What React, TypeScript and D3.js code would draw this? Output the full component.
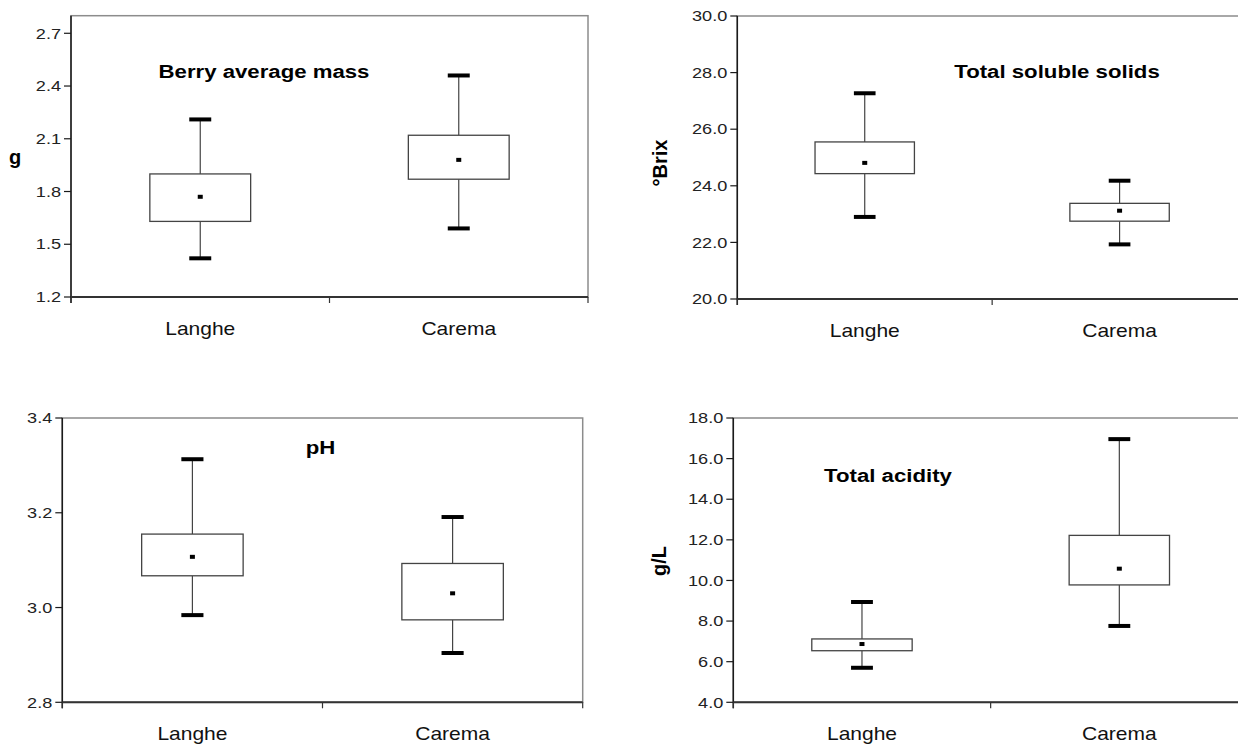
import React from "react";
import * as d3 from "d3";

const categories = ["Langhe", "Carema"];

// Berry average mass (g)
const massLow = [1.42, 1.59];
const massQ1 = [1.63, 1.87];
const massMean = [1.77, 1.98];
const massQ3 = [1.9, 2.12];
const massHigh = [2.21, 2.46];
const massDomain = [1.2, 2.8];
const massTicks = [1.2, 1.5, 1.8, 2.1, 2.4, 2.7];

// Total soluble solids (°Brix)
const brixLow = [22.9, 21.93];
const brixQ1 = [24.43, 22.75];
const brixMean = [24.81, 23.12];
const brixQ3 = [25.55, 23.38];
const brixHigh = [27.27, 24.18];
const brixDomain = [20, 30];
const brixTicks = [20, 22, 24, 26, 28, 30];

// pH
const phLow = [2.984, 2.904];
const phQ1 = [3.067, 2.974];
const phMean = [3.107, 3.03];
const phQ3 = [3.155, 3.093];
const phHigh = [3.313, 3.191];
const phDomain = [2.8, 3.4];
const phTicks = [2.8, 3.0, 3.2, 3.4];

// Total acidity (g/L)
const acidLow = [5.7, 7.76];
const acidQ1 = [6.54, 9.78];
const acidMean = [6.87, 10.58];
const acidQ3 = [7.12, 12.22];
const acidHigh = [8.94, 16.96];
const acidDomain = [4, 18];
const acidTicks = [4, 6, 8, 10, 12, 14, 16, 18];

const FONT = "'Liberation Sans', Arial, sans-serif";
const fmt = d3.format(".1f");

interface PanelProps {
  title: string;
  low: number[];
  q1: number[];
  mean: number[];
  q3: number[];
  high: number[];
  domain: number[];
  ticks: number[];
  left: number;
  top: number;
  right: number;
  bottom: number;
  titleX: number;
  titleY: number;
  yLabel?: string;
  yLabelX?: number;
  yLabelY?: number;
  yLabelRotate?: boolean;
}

function Txt({ x, y, sx = 1, rotate = 0, children, ...rest }: any) {
  const rot = rotate ? ` rotate(${rotate})` : "";
  return (
    <text transform={`translate(${x},${y}) scale(${sx},1)${rot}`} fontFamily={FONT} {...rest}>
      {children}
    </text>
  );
}

function BoxPanel(p: PanelProps) {
  const x = d3.scaleBand().domain(categories).range([p.left, p.right]);
  const y = d3.scaleLinear().domain(p.domain).range([p.bottom, p.top]);
  const bw = x.bandwidth();
  const boxW = bw * 0.39;
  const capW = bw * 0.085;
  const xTicks = [p.left, p.left + bw, p.right];

  return (
    <g>
      {/* frame: top & right gray */}
      <rect x={p.left} y={p.top} width={p.right - p.left} height={p.bottom - p.top}
        fill="#fff" stroke="#8c8c8c" strokeWidth={1.5} />
      {/* y axis */}
      <line x1={p.left} x2={p.left} y1={p.top} y2={p.bottom + 6} stroke="#1a1a1a" strokeWidth={1.5} />
      {p.ticks.map((t) => (
        <g key={t}>
          <line x1={p.left - 7} x2={p.left} y1={y(t)} y2={y(t)} stroke="#1a1a1a" strokeWidth={1.2} />
          <Txt x={p.left - 10} y={y(t)} sx={1.25} dy="0.36em" textAnchor="end" fontSize={14.5} fill="#222">
            {fmt(t)}
          </Txt>
        </g>
      ))}
      {/* x axis */}
      <line x1={p.left} x2={p.right} y1={p.bottom} y2={p.bottom} stroke="#333" strokeWidth={2} />
      {xTicks.map((t, i) => (
        <line key={i} x1={t} x2={t} y1={p.bottom} y2={p.bottom + 6} stroke="#333" strokeWidth={1.2} />
      ))}
      {categories.map((c) => (
        <Txt key={c} x={x(c)! + bw / 2} y={p.bottom + 37.5} sx={1.2} textAnchor="middle" fontSize={17.5} fill="#111">
          {c}
        </Txt>
      ))}

      {/* boxes */}
      {categories.map((c, i) => {
        const cx = x(c)! + bw / 2;
        return (
          <g key={c}>
            <line x1={cx} x2={cx} y1={y(p.high[i])} y2={y(p.q3[i])} stroke="#444" strokeWidth={1.2} />
            <line x1={cx} x2={cx} y1={y(p.q1[i])} y2={y(p.low[i])} stroke="#444" strokeWidth={1.2} />
            <rect x={cx - boxW / 2} y={y(p.q3[i])} width={boxW} height={y(p.q1[i]) - y(p.q3[i])}
              fill="#fff" stroke="#444" strokeWidth={1.3} />
            <line x1={cx - capW / 2} x2={cx + capW / 2} y1={y(p.high[i])} y2={y(p.high[i])} stroke="#000" strokeWidth={4} />
            <line x1={cx - capW / 2} x2={cx + capW / 2} y1={y(p.low[i])} y2={y(p.low[i])} stroke="#000" strokeWidth={4} />
            <rect x={cx - 2.5} y={y(p.mean[i]) - 2} width={5} height={4} fill="#000" />
          </g>
        );
      })}

      <Txt x={p.titleX} y={p.titleY} sx={1.2} textAnchor="middle" fontSize={18.5} fontWeight="bold" fill="#000">
        {p.title}
      </Txt>
      {p.yLabel && (
        <Txt x={p.yLabelX} y={p.yLabelY} rotate={p.yLabelRotate ? -90 : 0} textAnchor="middle"
          fontSize={20} fontWeight="bold" fill="#000">
          {p.yLabel}
        </Txt>
      )}
    </g>
  );
}

export default function App() {
  return (
    <div style={{ position: "absolute", left: 0, top: 0 }}>
      <svg width={1238} height={746} style={{ display: "block", background: "#fff" }}>
        <BoxPanel title="Berry average mass" low={massLow} q1={massQ1} mean={massMean} q3={massQ3} high={massHigh}
          domain={massDomain} ticks={massTicks} left={71} top={15.7} right={588} bottom={297}
          titleX={264} titleY={78} yLabel="g" yLabelX={15} yLabelY={164} />
        <BoxPanel title="Total soluble solids" low={brixLow} q1={brixQ1} mean={brixMean} q3={brixQ3} high={brixHigh}
          domain={brixDomain} ticks={brixTicks} left={737.3} top={16} right={1247} bottom={299}
          titleX={1057} titleY={77.5} yLabel="°Brix" yLabelX={666.5} yLabelY={163} yLabelRotate />
        <BoxPanel title="pH" low={phLow} q1={phQ1} mean={phMean} q3={phQ3} high={phHigh}
          domain={phDomain} ticks={phTicks} left={62.3} top={418} right={582.7} bottom={702.3}
          titleX={320.5} titleY={454} />
        <BoxPanel title="Total acidity" low={acidLow} q1={acidQ1} mean={acidMean} q3={acidQ3} high={acidHigh}
          domain={acidDomain} ticks={acidTicks} left={733.3} top={418} right={1248} bottom={702.3}
          titleX={888} titleY={481.7} yLabel="g/L" yLabelX={666} yLabelY={561} yLabelRotate />
      </svg>
    </div>
  );
}
